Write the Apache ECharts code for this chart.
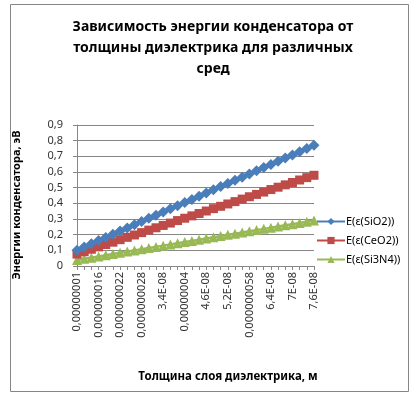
<!DOCTYPE html>
<html>
<head>
<meta charset="utf-8">
<script src="https://cdn.jsdelivr.net/npm/echarts@6/dist/echarts.min.js"></script>
<style>
  html, body { margin: 0; padding: 0; background: #fff; }
  #main { width: 418px; height: 397px; }
</style>
</head>
<body>
<div id="main"></div>
<script>
// толщина слоя диэлектрика, м (подписи категорий как в Excel)
var thickness = [
    '0,00000001', '1,2E-08', '1,4E-08', '0,000000016', '1,8E-08', '0,00000002',
    '0,000000022', '2,4E-08', '2,6E-08', '0,000000028', '0,00000003', '3,2E-08',
    '3,4E-08', '3,6E-08', '3,8E-08', '0,00000004', '4,2E-08', '4,4E-08',
    '4,6E-08', '4,8E-08', '0,00000005', '5,2E-08', '5,4E-08', '5,6E-08',
    '0,000000058', '0,00000006', '6,2E-08', '6,4E-08', '6,6E-08', '6,8E-08',
    '7E-08', '7,2E-08', '7,4E-08', '7,6E-08'
]

var sio2 = [
    0.101, 0.122, 0.142, 0.162, 0.182, 0.203, 0.223, 0.243, 0.263, 0.284, 0.304, 0.324,
    0.344, 0.365, 0.385, 0.405, 0.425, 0.446, 0.466, 0.486, 0.507, 0.527, 0.547, 0.567,
    0.588, 0.608, 0.628, 0.648, 0.669, 0.689, 0.709, 0.729, 0.750, 0.770
]

var ceo2 = [
    0.076, 0.091, 0.107, 0.122, 0.137, 0.152, 0.168, 0.183, 0.198, 0.213, 0.229, 0.244,
    0.259, 0.274, 0.290, 0.305, 0.320, 0.335, 0.351, 0.366, 0.381, 0.396, 0.411, 0.427,
    0.442, 0.457, 0.472, 0.488, 0.503, 0.518, 0.533, 0.549, 0.564, 0.579
]

var si3n4 = [
    0.038, 0.046, 0.053, 0.061, 0.069, 0.076, 0.084, 0.092, 0.099, 0.107, 0.115, 0.122,
    0.130, 0.138, 0.145, 0.153, 0.160, 0.168, 0.176, 0.183, 0.191, 0.199, 0.206, 0.214,
    0.222, 0.229, 0.237, 0.244, 0.252, 0.260, 0.267, 0.275, 0.283, 0.290
]

var seriesNames = ['E(ε(SiO2))', 'E(ε(CeO2))', 'E(ε(Si3N4))']

var font = 'Noto Sans, DejaVu Sans, sans-serif'
var myChart = echarts.init(document.getElementById('main'))

var option = {
    animation: false,
    backgroundColor: '#fff',
    title: {
        text: 'Зависимость энергии конденсатора от\nтолщины диэлектрика для различных\nсред',
        left: 208,
        textAlign: 'center',
        top: 12,
        textStyle: {
            fontFamily: font,
            fontSize: 14,
            fontWeight: 'bold',
            color: '#000',
            lineHeight: 21
        }
    },
    legend: {
        orient: 'vertical',
        left: 311,
        top: 211,
        itemGap: 8,
        itemWidth: 28,
        itemHeight: 9,
        data: seriesNames,
        textStyle: { fontFamily: font, fontSize: 11, color: '#000', padding: [0, 0, 0, -4] }
    },
    grid: {
        left: 77,
        right: 104,
        top: 125,
        bottom: 131,
        containLabel: false
    },
    xAxis: {
        type: 'category',
        data: thickness,
        boundaryGap: false,
        axisLine: { lineStyle: { color: '#868686', width: 1 } },
        axisTick: { show: true, interval: 0, length: 4, lineStyle: { color: '#868686' } },
        axisLabel: {
            interval: 2,
            rotate: 90,
            margin: 6,
            fontFamily: font,
            fontSize: 11,
            color: '#333'
        },
        splitLine: { show: false }
    },
    yAxis: {
        type: 'value',
        min: 0,
        max: 0.9,
        interval: 0.1,
        axisLine: { show: true, lineStyle: { color: '#868686' } },
        axisTick: { show: true, length: 4, lineStyle: { color: '#868686' } },
        axisLabel: {
            fontFamily: font,
            fontSize: 11,
            color: '#333',
            margin: 14,
            formatter: function (v) {
                return (Math.round(v * 10) / 10).toString().replace('.', ',')
            }
        },
        splitLine: { lineStyle: { color: '#868686', width: 1 } }
    },
    graphic: [
        {
            type: 'rect',
            shape: { x: 10.5, y: 4.5, width: 398, height: 387 },
            style: { fill: 'none', stroke: '#868686', lineWidth: 1 },
            z: 100
        },
        {
            type: 'text',
            x: 17,
            y: 205,
            rotation: Math.PI / 2,
            style: {
                text: 'Энергии конденсатора, эВ',
                fontFamily: font,
                fontSize: 11,
                fontWeight: 'bold',
                fill: '#000',
                align: 'center',
                verticalAlign: 'middle'
            }
        },
        {
            type: 'text',
            x: 228,
            y: 377,
            style: {
                text: 'Толщина слоя диэлектрика, м',
                fontFamily: font,
                fontSize: 11.5,
                fontWeight: 'bold',
                fill: '#000',
                align: 'center',
                verticalAlign: 'middle'
            }
        }
    ],
    series: [
        {
            name: seriesNames[0],
            type: 'line',
            data: sio2,
            symbol: 'diamond',
            symbolSize: 11,
            showAllSymbol: true,
            color: '#4A7EBB',
            lineStyle: { width: 2.5 },
            z: 3
        },
        {
            name: seriesNames[1],
            type: 'line',
            data: ceo2,
            symbol: 'rect',
            symbolSize: 9,
            showAllSymbol: true,
            color: '#BE4B48',
            lineStyle: { width: 2.5 },
            z: 2
        },
        {
            name: seriesNames[2],
            type: 'line',
            data: si3n4,
            symbol: 'triangle',
            symbolSize: 10,
            showAllSymbol: true,
            color: '#98B954',
            lineStyle: { width: 2.5 },
            z: 1
        }
    ]
}

myChart.setOption(option)
</script>
</body>
</html>
